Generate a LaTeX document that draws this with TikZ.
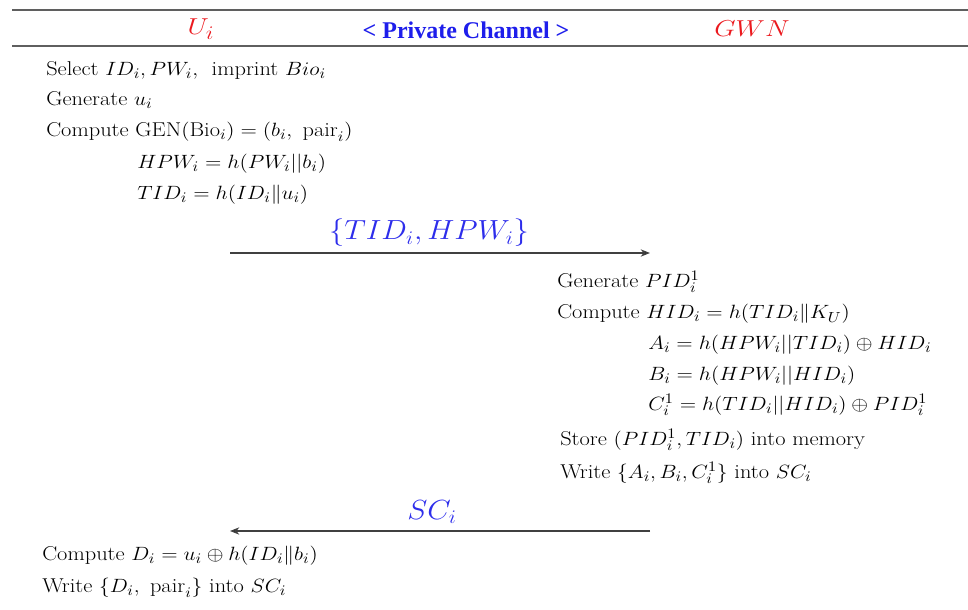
\documentclass[tikz,border=0pt]{standalone}
\usepackage{graphicx}
\usepackage{fontspec}
\newfontfamily\chanfont{Liberation Serif}
\usetikzlibrary{arrows.meta}
\definecolor{ttred}{RGB}{235,25,30}
\definecolor{ttblue}{RGB}{30,30,235}
\definecolor{lblblue}{RGB}{45,45,235}
\definecolor{rulegray}{RGB}{95,95,95}
\newcommand\hs[1]{\scalebox{1.12}[1]{#1}}
\newcommand\hh[1]{\scalebox{1.2}[1]{#1}}
\newcommand\hm[1]{\scalebox{1.1}[1]{#1}}
\begin{document}
\begin{tikzpicture}[x=0.75pt,y=-0.75pt,
  txt/.style={anchor=mid west, inner sep=0pt, font=\fontsize{15}{18}\selectfont},
  hdr/.style={inner sep=0pt, text=ttred, font=\fontsize{19}{23}\selectfont},
  chan/.style={inner sep=0pt, text=ttblue, font=\chanfont\bfseries\fontsize{18}{22}\selectfont},
  msg/.style={inner sep=0pt, text=lblblue, font=\fontsize{19.5}{24}\selectfont},
  rulel/.style={draw=rulegray, line width=1.5pt},
  msgarrow/.style={draw=black!75, line width=0.9pt, -{Stealth[length=7pt,width=5.5pt,fill=black]}}]
\useasboundingbox (0,0) rectangle (968,610);
% rules
\coordinate (r1a) at (12,10); \coordinate (r1b) at (968,10);
\coordinate (r2a) at (12,46); \coordinate (r2b) at (968,46);
\draw[rulel] (r1a) -- (r1b);
\draw[rulel] (r2a) -- (r2b);
% header
\node[hdr] (ui) at (201,29) {\hh{$U_i$}};
\node[chan] (pc) at (466,30) {< Private Channel >};
\node[hdr] (gwn) at (752,29) {\hh{$GWN$}};
% user block
\node[txt] (l1) at (46,73) {\hs{Select $ID_i, PW_i,\ $ imprint $Bio_i$}};
\node[txt] (l2) at (46,103) {\hs{Generate $u_i$}};
\node[txt] (l3) at (46,134) {\hs{Compute $\mathrm{GEN}(\mathrm{Bio}_i) = (b_i,\ \mathrm{pair}_i)$}};
\node[txt] (l4) at (137,166) {\hs{$HPW_i = h(PW_i||b_i)$}};
\node[txt] (l5) at (137,197) {\hs{$TID_i = h(ID_i\|u_i)$}};
% message 1
\coordinate (m1s) at (230,253); \coordinate (m1e) at (650,253);
\draw[msgarrow] (m1s) -- (m1e);
\node[msg] (m1) at (429,233) {\hm{$\{TID_i, HPW_i\}$}};
% GWN block
\node[txt] (g1) at (557,285) {\hs{Generate $PID_i^1$}};
\node[txt] (g2) at (557,316) {\hs{Compute $HID_i = h(TID_i\|K_U)$}};
\node[txt] (g3) at (648,347) {\hs{$A_i = h(HPW_i||TID_i) \oplus HID_i$}};
\node[txt] (g4) at (648,378) {\hs{$B_i = h(HPW_i||HID_i)$}};
\node[txt] (g5) at (648,408) {\hs{$C_i^1 = h(TID_i||HID_i) \oplus PID_i^1$}};
\node[txt] (g6) at (560,443) {\hs{Store $(PID_i^1, TID_i)$ into memory}};
\node[txt] (g7) at (560,476) {\hs{Write $\{A_i, B_i, C_i^1\}$ into $SC_i$}};
% message 2
\coordinate (m2s) at (650,531); \coordinate (m2e) at (230,531);
\draw[msgarrow] (m2s) -- (m2e);
\node[msg] (m2) at (432,512) {\hm{$SC_i$}};
% final user block
\node[txt] (f1) at (42,558) {\hs{Compute $D_i = u_i \oplus h(ID_i\|b_i)$}};
\node[txt] (f2) at (42,590) {\hs{Write $\{D_i,\ \mathrm{pair}_i\}$ into $SC_i$}};
\end{tikzpicture}
\end{document}
